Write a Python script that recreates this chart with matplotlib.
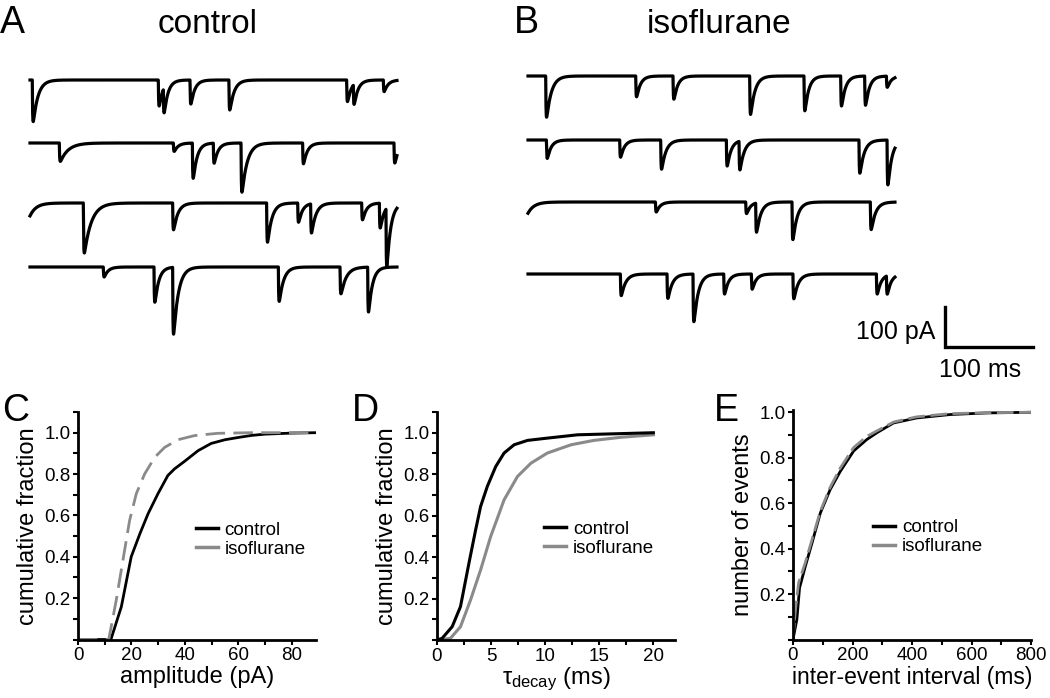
import numpy as np
import matplotlib
matplotlib.use("Agg")
import matplotlib.pyplot as plt
from matplotlib.ticker import MultipleLocator, FixedLocator, FormatStrFormatter

plt.rcParams['font.family'] = ['Liberation Sans', 'DejaVu Sans']
plt.rcParams['mathtext.fontset'] = 'custom'
plt.rcParams['mathtext.rm'] = 'Liberation Sans'
plt.rcParams['mathtext.it'] = 'Liberation Sans'

# ---- example traces: events as (time ms, amplitude pA, decay tau ms) ----
TRACE_LEN = 417
ctrl_events = [
    [(2.6, 104, 5.5), (145.8, 65, 4.5), (151.5, 62, 4.5), (181.8, 60, 4.5), (226, 75, 5),
     (359.8, 54, 4.5), (367.4, 50, 4.5), (401.5, 29, 4.5)],
    [(33.3, 46, 9), (162.9, 21, 4.5), (184.5, 88, 4.5), (208.3, 50, 4.5), (239.8, 123, 6),
     (309.8, 52, 4.5), (413.6, 50, 4.5)],
    [(-2, 35, 7), (60.6, 125, 8), (162.1, 67, 5), (268.9, 98, 5), (304.2, 48, 4.5),
     (318.9, 73, 5), (376.9, 42, 4.5), (397, 62, 4.5), (404.5, 145, 4.5)],
    [(83.3, 25, 4.5), (140.9, 88, 4.5), (162.1, 167, 5.5), (282.2, 86, 5), (352.3, 67, 6),
     (383.7, 112, 4.5)],
]
iso_events = [
    [(20.1, 103, 5.5), (122.4, 52, 4.5), (164.8, 58, 4.5), (251.9, 96, 5), (313.6, 87, 4.5),
     (355.3, 75, 4.5), (382.6, 73, 4.5), (407.3, 28, 4.5)],
    [(20.9, 46, 4.5), (104.2, 43, 4.5), (150.8, 73, 5), (225.4, 65, 4.5), (239.8, 72, 5),
     (376.1, 83, 5), (408, 112, 4.5)],
    [(-3, 35, 7), (144.8, 25, 4.5), (247.4, 29, 4.5), (258.7, 73, 5), (300, 94, 5),
     (389, 69, 5)],
    [(105, 54, 5), (158, 61, 5), (187.5, 119, 5), (222.4, 50, 4.5), (253.8, 38, 4.5),
     (301.1, 62, 5), (395.9, 50, 4.5), (407.3, 46, 4.5)],
]

# ---- cumulative distributions ----
amp_x_ctrl = [0, 12.3, 16.2, 19.9, 23.1, 26.2, 29.9, 33.6, 36.1, 39.9, 44.9, 49.8, 55, 60, 65, 70, 80, 89]
amp_y_ctrl = [0, 0, 0.158, 0.40, 0.51, 0.608, 0.705, 0.793, 0.825, 0.862, 0.913, 0.948,
              0.966, 0.977, 0.987, 0.993, 0.998, 1.0]
amp_x_iso = [0, 11.5, 14.3, 16.8, 19.3, 21.8, 24.9, 28.7, 32.4, 37.4, 43.6, 52.3, 65, 89]
amp_y_iso = [0, 0, 0.19, 0.383, 0.576, 0.705, 0.80, 0.881, 0.929, 0.966, 0.986, 0.997, 1.0, 1.0]

tau_x_ctrl = [0, 0.47, 1.4, 2.17, 2.95, 3.57, 4.03, 4.65, 5.43, 6.2, 7.13, 8.37, 10.2, 13.0, 16.5, 20]
tau_y_ctrl = [0, 0.008, 0.064, 0.161, 0.37, 0.531, 0.644, 0.741, 0.837, 0.902, 0.942, 0.963,
              0.974, 0.99, 0.995, 1.0]
tau_x_iso = [0, 1.24, 2.17, 3.1, 4.03, 4.96, 6.2, 7.44, 8.68, 10.2, 12.4, 14.5, 17, 20]
tau_y_iso = [0, 0.008, 0.064, 0.193, 0.338, 0.499, 0.676, 0.789, 0.853, 0.902, 0.942, 0.963,
             0.978, 0.99]

iei_x_ctrl = [0, 13, 22, 41, 64, 92, 125, 159, 204, 248, 282, 338, 416, 528, 650, 800]
iei_y_ctrl = [0, 0.088, 0.227, 0.32, 0.425, 0.557, 0.66, 0.74, 0.83, 0.88, 0.91, 0.953, 0.975, 0.99, 0.997, 1.0]
iei_x_iso = [0, 8, 19, 41, 64, 92, 125, 159, 204, 248, 282, 338, 416, 528, 650, 800]
iei_y_iso = [0, 0.13, 0.25, 0.337, 0.44, 0.565, 0.67, 0.755, 0.845, 0.894, 0.918, 0.957, 0.98, 0.994, 0.998, 1.0]

GRAY = '#8a8a8a'
PX_MS = 0.88   # pixels per ms in trace panel
PX_PA = 0.4    # pixels per pA


def make_trace(events, t):
    y = np.zeros_like(t)
    rise = 0.35
    for t0, amp, tau in events:
        s = np.clip(t - t0, 0, None)
        k = np.where(t > t0, np.exp(-s / tau) - np.exp(-s / rise), 0)
        tp = tau * rise / (tau - rise) * np.log(tau / rise)
        peak = np.exp(-tp / tau) - np.exp(-tp / rise)
        y -= amp * k / peak
    return y


fig = plt.figure(figsize=(10.5, 6.98), dpi=100)

# traces drawn in an axes covering the whole figure (ms / pA units)
axt = fig.add_axes([0, 0, 1, 1])
axt.set_xlim(0, 1050 / PX_MS)
axt.set_ylim(-698 / PX_PA, 0)
axt.axis('off')

t = np.linspace(0, TRACE_LEN, 5000)
for events, x0, bases in [(ctrl_events, 30, [80, 143, 203, 267]),
                          (iso_events, 528, [76, 140, 202, 274])]:
    for ev, b in zip(events, bases):
        axt.plot(x0 / PX_MS + t, -b / PX_PA + make_trace(ev, t), color='black', lw=2.3)

# scale bar
cx, cy = 945 / PX_MS, -347 / PX_PA
axt.plot([cx, cx, cx + 100], [cy + 100, cy, cy], color='black', lw=2.4, solid_joinstyle='miter')
fig.text(935 / 1050, 1 - 332 / 698, '100 pA', fontsize=18, ha='right', va='center')
fig.text(939 / 1050, 1 - 370 / 698, '100 ms', fontsize=18, ha='left', va='center')

# titles and panel letters
fig.text(208 / 1050, 1 - 33 / 698, 'control', fontsize=24, ha='center', va='baseline')
fig.text(719 / 1050, 1 - 33 / 698, 'isoflurane', fontsize=24, ha='center', va='baseline')
for lab, x, y in [('A', 0, 33), ('B', 514, 33), ('C', 2, 421), ('D', 352, 421), ('E', 714, 421)]:
    fig.text(x / 1050, 1 - y / 698, lab, fontsize=27, ha='left', va='baseline')


def style(ax, xmaj, xmin_step, xlim, ylim):
    for s in ['top', 'right']:
        ax.spines[s].set_visible(False)
    for s in ['left', 'bottom']:
        ax.spines[s].set_linewidth(2)
    ax.set_facecolor('none')
    ax.set_xlim(*xlim)
    ax.set_ylim(*ylim)
    ax.xaxis.set_major_locator(FixedLocator(xmaj))
    ax.xaxis.set_minor_locator(MultipleLocator(xmin_step))
    ax.yaxis.set_major_locator(FixedLocator([0.2, 0.4, 0.6, 0.8, 1.0]))
    ax.yaxis.set_minor_locator(MultipleLocator(0.1))
    ax.yaxis.set_major_formatter(FormatStrFormatter('%.1f'))
    ax.tick_params(which='both', direction='out', length=3.5, width=1.5, labelsize=13.5, pad=2)


W = 238 / 1050
axC = fig.add_axes([78 / 1050, 1 - 639.5 / 698, W, 227.5 / 698])
axD = fig.add_axes([437 / 1050, 1 - 640 / 698, W, 228 / 698])
axE = fig.add_axes([793 / 1050, 1 - 639.5 / 698, W, 229.5 / 698])

axC.plot(amp_x_ctrl, amp_y_ctrl, color='black', lw=2, label='control')
axC.plot(amp_x_iso, amp_y_iso, color=GRAY, lw=2, dashes=(7, 3))
axC.plot([], [], color=GRAY, lw=2.5, label='isoflurane')
style(axC, [0, 20, 40, 60, 80], 10, (0, 89), (0, 1.1))
axC.set_xlabel('amplitude (pA)', fontsize=17, labelpad=1)
axC.set_ylabel('cumulative fraction', fontsize=17, labelpad=4)

axD.plot(tau_x_iso, tau_y_iso, color=GRAY, lw=2.2, label='isoflurane')
axD.plot(tau_x_ctrl, tau_y_ctrl, color='black', lw=2.2, label='control')
style(axD, [0, 5, 10, 15, 20], 2.5, (0, 22), (0, 1.1))
axD.set_xlabel(r'$\tau_{\rm decay}$ (ms)', fontsize=17, labelpad=1)
axD.set_ylabel('cumulative fraction', fontsize=17, labelpad=4)

axE.plot(iei_x_ctrl, iei_y_ctrl, color='black', lw=2, label='control')
axE.plot(iei_x_iso, iei_y_iso, color=GRAY, lw=2, dashes=(6, 2))
axE.plot([], [], color=GRAY, lw=2.5, label='isoflurane')
style(axE, [0, 200, 400, 600, 800], 100, (0, 800), (0, 1.01))
axE.set_xlabel('inter-event interval (ms)', fontsize=16.5, labelpad=1)
axE.set_ylabel('number of events', fontsize=17, labelpad=4)

for ax, xf, yf in [(axC, 0.455, 0.56), (axD, 0.41, 0.565), (axE, 0.296, 0.565)]:
    h, l = ax.get_legend_handles_labels()
    order = [l.index('control'), l.index('isoflurane')]
    leg = ax.legend([h[i] for i in order], [l[i] for i in order], frameon=False,
                    loc='upper left', bbox_to_anchor=(xf, yf), fontsize=13.5,
                    handlelength=1.2, handletextpad=0.35, labelspacing=0.1, borderpad=0)
    for line in leg.get_lines():
        line.set_linewidth(2.5)

fig.savefig('out.png', dpi=100)
